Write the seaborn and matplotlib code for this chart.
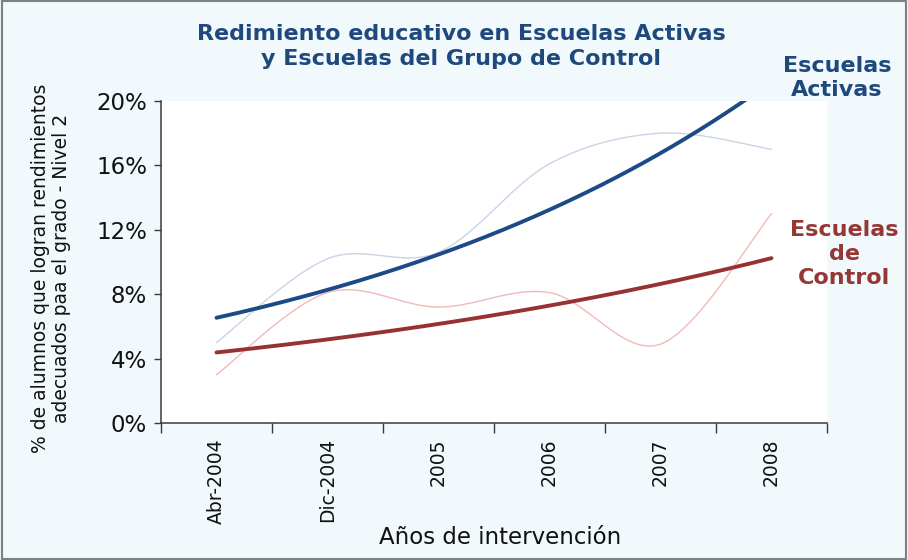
import numpy as np
import pandas as pd
import matplotlib
matplotlib.use("Agg")
import matplotlib.pyplot as plt
from matplotlib.patches import Rectangle
from matplotlib.ticker import FixedLocator, FuncFormatter
import seaborn as sns

# ---- data ----
categories = ["Abr-2004", "Dic-2004", "2005", "2006", "2007", "2008"]
activas = [5.0, 10.2, 10.6, 16.1, 18.0, 17.0]
control = [3.0, 8.1, 7.2, 8.1, 4.9, 13.0]
yticks = [0, 4, 8, 12, 16, 20]
title = "Redimiento educativo en Escuelas Activas\ny Escuelas del Grupo de Control"
ylabel = "% de alumnos que logran rendimientos\nadecuados paa el grado - Nivel 2"
xlabel = "Años de intervención"

BG = "#f1f9fd"
BLUE = "#1f497d"
BLUE_TREND = "#1c4a87"
BLUE_RAW = "#c9d4e6"
RED = "#953735"
RED_TREND = "#973232"
RED_RAW = "#f3b9b9"
AXIS = "#3a3a3a"
TXT = "#111111"


def smooth_curve(values, n=40):
    """Excel-style smoothed line (Bezier through data points)."""
    P = np.column_stack([np.arange(len(values)), values]).astype(float)
    segs = []
    for i in range(len(P) - 1):
        p_prev = P[i - 1] if i > 0 else P[i]
        p_next = P[i + 2] if i + 2 < len(P) else P[i + 1]
        c1 = P[i] + (P[i + 1] - p_prev) / 6
        c2 = P[i + 1] - (p_next - P[i]) / 6
        t = np.linspace(0, 1, n, endpoint=(i == len(P) - 2))[:, None]
        segs.append((1 - t) ** 3 * P[i] + 3 * (1 - t) ** 2 * t * c1
                    + 3 * (1 - t) * t ** 2 * c2 + t ** 3 * P[i + 1])
    return np.vstack(segs)


def exp_trend(values, n=200):
    x = np.arange(len(values))
    b, lna = np.polyfit(x, np.log(values), 1)
    xs = np.linspace(0, len(values) - 1, n)
    return xs, np.exp(lna + b * xs)


sns.set_theme(style="white")
plt.rcParams["font.family"] = ["DejaVu Sans"]

fig = plt.figure(figsize=(9.08, 5.60), dpi=100, facecolor=BG)
ax = fig.add_axes([161 / 908, 1 - 423 / 560, (827 - 161) / 908, (423 - 101) / 560])
ax.set_facecolor("white")

for vals, col in [(activas, BLUE_RAW), (control, RED_RAW)]:
    sc = smooth_curve(vals)
    df = pd.DataFrame({"x": sc[:, 0], "y": sc[:, 1]})
    sns.lineplot(data=df, x="x", y="y", ax=ax, color=col, lw=1.0,
                 sort=False, estimator=None)

for vals, col in [(control, RED_TREND), (activas, BLUE_TREND)]:
    xs, ys = exp_trend(vals)
    df = pd.DataFrame({"x": xs, "y": ys})
    sns.lineplot(data=df, x="x", y="y", ax=ax, color=col, lw=2.8,
                 sort=False, estimator=None)

ax.set_xlim(-0.5, len(categories) - 0.5)
ax.set_ylim(0, 20)
ax.set_xlabel("")
ax.set_ylabel("")

# y axis
ax.yaxis.set_major_locator(FixedLocator(yticks))
ax.yaxis.set_major_formatter(FuncFormatter(lambda v, p: f"{v:.0f}%"))
ax.tick_params(axis="y", direction="out", length=5, width=1, color=AXIS,
               labelsize=16.5, labelcolor=TXT, pad=5, left=True)

# x axis: ticks between categories, labels at centers
ax.xaxis.set_major_locator(FixedLocator(np.arange(-0.5, len(categories), 1.0)))
ax.xaxis.set_minor_locator(FixedLocator(np.arange(len(categories))))
ax.set_xticklabels([""] * (len(categories) + 1))
ax.set_xticklabels(categories, minor=True, rotation=90)
ax.tick_params(axis="x", which="major", direction="out", length=7, width=1,
               color=AXIS, bottom=True)
ax.tick_params(axis="x", which="minor", length=0, labelsize=13.5,
               labelcolor=TXT, pad=11)

for s in ["top", "right"]:
    ax.spines[s].set_visible(False)
for s in ["left", "bottom"]:
    ax.spines[s].set_color(AXIS)
    ax.spines[s].set_linewidth(1.1)

# texts
fig.text(461 / 908, 1 - 46.5 / 560, title, ha="center", va="center",
         fontsize=16, fontweight="bold", color=BLUE, linespacing=1.35)
fig.text(51 / 908, 1 - 268 / 560, ylabel, ha="center", va="center",
         rotation=90, fontsize=13.5, color=TXT, linespacing=1.1,
         multialignment="center")
fig.text(500 / 908, 1 - 537 / 560, xlabel, ha="center", va="center",
         fontsize=16.5, color=TXT)
fig.text(837 / 908, 1 - 77.5 / 560, "Escuelas\nActivas", ha="center", va="center",
         fontsize=16, fontweight="bold", color=BLUE, linespacing=1.25)
fig.text(844 / 908, 1 - 254.5 / 560, "Escuelas\nde\nControl", ha="center",
         va="center", fontsize=16, fontweight="bold", color=RED,
         linespacing=1.25)

fig.add_artist(Rectangle((0.002, 0.002), 0.996, 0.996, transform=fig.transFigure,
                         fill=False, edgecolor="#7f7f7f", lw=1.5))

fig.savefig("out.png", dpi=100, facecolor=BG)
